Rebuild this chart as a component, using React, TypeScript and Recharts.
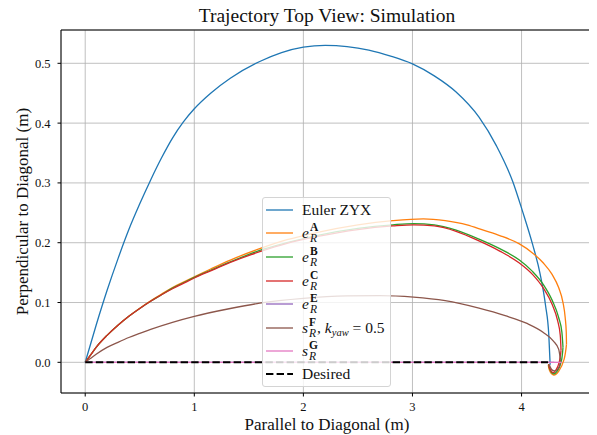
import React from "react"
import {
  LineChart,
  Line,
  XAxis,
  YAxis,
  CartesianGrid,
  ReferenceLine,
  Legend,
} from "recharts"

type Pt = [number, number]

// trajectories, [parallel, perpendicular] in metres
const eulerZYX: Pt[] = [
  [0, 0], [0.1, 0.062], [0.2, 0.12], [0.3, 0.173], [0.4, 0.222], [0.5, 0.265],
  [0.6, 0.305], [0.7, 0.342], [0.8, 0.375], [0.9, 0.402], [1.0, 0.424],
  [1.15, 0.45], [1.33, 0.475], [1.6, 0.503], [1.8, 0.518], [2.0, 0.527],
  [2.2, 0.53], [2.4, 0.528], [2.6, 0.522], [2.8, 0.512], [3.0, 0.499],
  [3.2, 0.479], [3.4, 0.452], [3.61, 0.41], [3.77, 0.362], [3.92, 0.302],
  [4.01, 0.252], [4.1, 0.198], [4.17, 0.148], [4.22, 0.095], [4.25, 0.045],
  [4.26, 0.005], [4.262, -0.004],
]

const eA: Pt[] = [
  [0, 0], [0.05, 0.0125], [0.1, 0.025], [0.2, 0.045], [0.3, 0.062], [0.4, 0.077],
  [0.5, 0.0905], [0.6, 0.103], [0.7, 0.114], [0.8, 0.125], [0.9, 0.134],
  [1.0, 0.143], [1.15, 0.156], [1.33, 0.171], [1.6, 0.19], [1.85, 0.205],
  [2.12, 0.217], [2.5, 0.23], [2.82, 0.237], [3.1, 0.24], [3.3, 0.237],
  [3.5, 0.23], [3.65, 0.221], [3.8, 0.212], [3.98, 0.198], [4.1, 0.183],
  [4.2, 0.166], [4.28, 0.147], [4.34, 0.125], [4.38, 0.1], [4.4, 0.075],
  [4.41, 0.05], [4.412, 0.03], [4.39, 0.005], [4.34, -0.015], [4.29, -0.021],
  [4.255, -0.013], [4.245, -0.004],
]

const eB: Pt[] = [
  [0, 0], [0.05, 0.0125], [0.1, 0.025], [0.2, 0.045], [0.3, 0.062], [0.4, 0.077],
  [0.5, 0.09], [0.6, 0.102], [0.7, 0.113], [0.8, 0.124], [0.9, 0.133],
  [1.0, 0.142], [1.15, 0.154], [1.33, 0.168], [1.6, 0.187], [1.85, 0.2],
  [2.12, 0.212], [2.5, 0.224], [2.82, 0.23], [3.01, 0.232], [3.2, 0.23],
  [3.4, 0.221], [3.61, 0.206], [3.8, 0.19], [3.98, 0.171], [4.1, 0.152],
  [4.2, 0.13], [4.28, 0.104], [4.34, 0.075], [4.37, 0.05], [4.38, 0.025],
  [4.365, 0.002], [4.33, -0.014], [4.29, -0.019], [4.258, -0.011], [4.248, -0.003],
]

const eC: Pt[] = [
  [0, 0], [0.05, 0.0125], [0.1, 0.025], [0.2, 0.045], [0.3, 0.062], [0.4, 0.077],
  [0.5, 0.09], [0.6, 0.102], [0.7, 0.113], [0.8, 0.123], [0.9, 0.132],
  [1.0, 0.141], [1.15, 0.153], [1.33, 0.167], [1.6, 0.185], [1.85, 0.199],
  [2.12, 0.21], [2.5, 0.222], [2.82, 0.228], [3.01, 0.23], [3.2, 0.228],
  [3.4, 0.219], [3.61, 0.203], [3.8, 0.186], [3.98, 0.166], [4.1, 0.147],
  [4.2, 0.124], [4.28, 0.097], [4.33, 0.07], [4.355, 0.045], [4.362, 0.02],
  [4.345, 0.0], [4.315, -0.013], [4.285, -0.017], [4.258, -0.01], [4.25, -0.003],
]

const eE: Pt[] = [[0, 0], [4.3, 0]]

const sF: Pt[] = [
  [0, 0], [0.05, 0.0068], [0.1, 0.0135], [0.2, 0.025], [0.3, 0.0335], [0.4, 0.0415],
  [0.5, 0.0485], [0.6, 0.0552], [0.8, 0.067], [1.0, 0.077], [1.33, 0.09],
  [1.6, 0.099], [2.0, 0.107], [2.4, 0.111], [2.7, 0.1115], [3.01, 0.109],
  [3.3, 0.103], [3.61, 0.0905], [3.85, 0.078], [4.05, 0.065], [4.2, 0.05],
  [4.29, 0.036], [4.34, 0.022], [4.356, 0.005], [4.345, -0.008], [4.31, -0.014],
  [4.275, -0.012], [4.255, -0.004],
]

const sG: Pt[] = [[0, 0], [4.37, 0]]

const desired: Pt[] = [[0, 0], [4.243, 0]]

const xTicks = [0, 1, 2, 3, 4]
const yTicks = [0, 0.1, 0.2, 0.3, 0.4, 0.5]
const xDomain: [number, number] = [-0.222, 4.655]
const yDomain: [number, number] = [-0.0513, 0.5557]

const toRows = (pts: Pt[]) => pts.map(([x, y]) => ({ x, y }))

// the path runs forward in x up to its farthest point, then curls back:
// draw the forward part as a monotone curve and the curl separately
function splitAtFarthest(pts: Pt[]): [Pt[], Pt[]] {
  let idx = 0
  pts.forEach((p, i) => {
    if (p[0] > pts[idx][0]) idx = i
  })
  return [pts.slice(0, idx + 1), pts.slice(idx)]
}

const FONT = '"Liberation Serif", "DejaVu Serif", serif'

interface SeriesMeta {
  key: string
  color: string
  pts: Pt[]
  width: number
  dash?: string
}

const series: SeriesMeta[] = [
  { key: "euler", color: "#1f77b4", pts: eulerZYX, width: 1.3 },
  { key: "A", color: "#ff7f0e", pts: eA, width: 1.3 },
  { key: "B", color: "#2ca02c", pts: eB, width: 1.3 },
  { key: "C", color: "#d62728", pts: eC, width: 1.3 },
  { key: "E", color: "#9467bd", pts: eE, width: 1.3 },
  { key: "F", color: "#8c564b", pts: sF, width: 1.3 },
  { key: "G", color: "#e377c2", pts: sG, width: 1.3 },
  { key: "desired", color: "#000000", pts: desired, width: 2, dash: "7.4 3.2" },
]

function Stack({ top, bottom }: { top: string; bottom: string }) {
  return (
    <span
      style={{
        display: "inline-flex",
        flexDirection: "column",
        lineHeight: "11px",
        fontSize: 11.5,
        marginLeft: 1,
      }}
    >
      <b style={{ fontStyle: "normal" }}>{top}</b>
      <i>{bottom}</i>
    </span>
  )
}

function mathLabel(key: string) {
  if (key === "euler") return <span>Euler ZYX</span>
  if (key === "desired") return <span>Desired</span>
  const base = key === "F" || key === "G" ? "s" : "e"
  return (
    <span style={{ display: "inline-flex", alignItems: "center" }}>
      <i>{base}</i>
      <Stack top={key} bottom="R" />
      {key === "F" && (
        <span style={{ marginLeft: 1, whiteSpace: "nowrap" }}>
          , <i>k</i>
          <i style={{ fontSize: 10.5, position: "relative", top: 3 }}>yaw</i> = 0.5
        </span>
      )}
    </span>
  )
}

function LegendBox() {
  return (
    <div
      style={{
        background: "rgba(255,255,255,0.8)",
        border: "1px solid #d4d4d4",
        borderRadius: 3,
        width: 127,
        padding: "0 0 2px 0",
        fontFamily: FONT,
        fontSize: 15.5,
        color: "#111",
      }}
    >
      {series.map((s, i) => (
        <div
          key={s.key}
          style={{
            display: "flex",
            alignItems: "center",
            height: i === series.length - 1 ? 21 : 23.6,
          }}
        >
          <svg width={39} height={6} style={{ flex: "none" }}>
            <line
              x1={3}
              x2={30}
              y1={3}
              y2={3}
              stroke={s.color}
              strokeWidth={s.width}
              strokeDasharray={s.dash}
            />
          </svg>
          {mathLabel(s.key)}
        </div>
      ))}
    </div>
  )
}

export default function App() {
  const tick = { fontSize: 12.5, fill: "#111", fontFamily: FONT }
  return (
    <div style={{ position: "relative", width: 589, height: 427, fontFamily: FONT }}>
      <div
        style={{
          position: "absolute",
          left: 53,
          width: 532,
          top: -3,
          textAlign: "center",
          fontSize: 19.5,
          color: "#111",
        }}
      >
        Trajectory Top View: Simulation
      </div>
      <LineChart
        width={589}
        height={427}
        margin={{ top: 22, right: 4, left: 0, bottom: 0 }}
      >
        <CartesianGrid stroke="#b0b0b0" strokeWidth={0.8} />
        <XAxis
          type="number"
          dataKey="x"
          domain={xDomain}
          ticks={xTicks}
          allowDataOverflow
          height={42}
          tick={tick}
          tickSize={3.5}
          tickMargin={6}
          stroke="#000"
          tickFormatter={(v: number) => String(v)}
          label={{
            content: (p: any) => {
              const vb = p.viewBox ?? { x: 53, y: 385, width: 532 }
              return (
                <text
                  x={vb.x + vb.width / 2}
                  y={vb.y + 31}
                  textAnchor="middle"
                  dominantBaseline="central"
                  fontSize={17}
                  fontFamily={FONT}
                  fill="#111"
                >
                  Parallel to Diagonal (m)
                </text>
              )
            },
          }}
        />
        <YAxis
          type="number"
          dataKey="y"
          domain={yDomain}
          ticks={yTicks}
          allowDataOverflow
          width={53}
          tick={tick}
          tickSize={3.5}
          tickMargin={7}
          stroke="#000"
          tickFormatter={(v: number) => v.toFixed(1)}
          label={{
            content: (p: any) => {
              const vb = p.viewBox ?? { x: 0, y: 22, height: 363 }
              const cx = 14
              const cy = vb.y + vb.height / 2
              return (
                <text
                  x={cx}
                  y={cy}
                  transform={`rotate(-90 ${cx} ${cy})`}
                  textAnchor="middle"
                  dominantBaseline="central"
                  fontSize={17}
                  fontFamily={FONT}
                  fill="#111"
                >
                  Perpendicular to Diagonal (m)
                </text>
              )
            },
          }}
        />
        <ReferenceLine y={yDomain[1]} stroke="#000" strokeWidth={1} />
        <ReferenceLine x={xDomain[1]} stroke="#000" strokeWidth={1} />
        {series.flatMap((s) => {
          const [head, tail] = splitAtFarthest(s.pts)
          const common = {
            dataKey: "y",
            stroke: s.color,
            strokeWidth: s.width,
            strokeDasharray: s.dash,
            dot: false,
            activeDot: false,
            isAnimationActive: false,
          }
          const out = [
            <Line key={s.key} data={toRows(head)} type="monotone" {...common} />,
          ]
          if (tail.length > 1) {
            out.push(
              <Line
                key={s.key + "-tail"}
                data={toRows(tail)}
                type="natural"
                legendType="none"
                {...common}
              />
            )
          }
          return out
        })}
        <Legend
          layout="vertical"
          align="center"
          verticalAlign="middle"
          wrapperStyle={{ left: 254, top: 189, width: 129 }}
          content={() => <LegendBox />}
        />
      </LineChart>
    </div>
  )
}
